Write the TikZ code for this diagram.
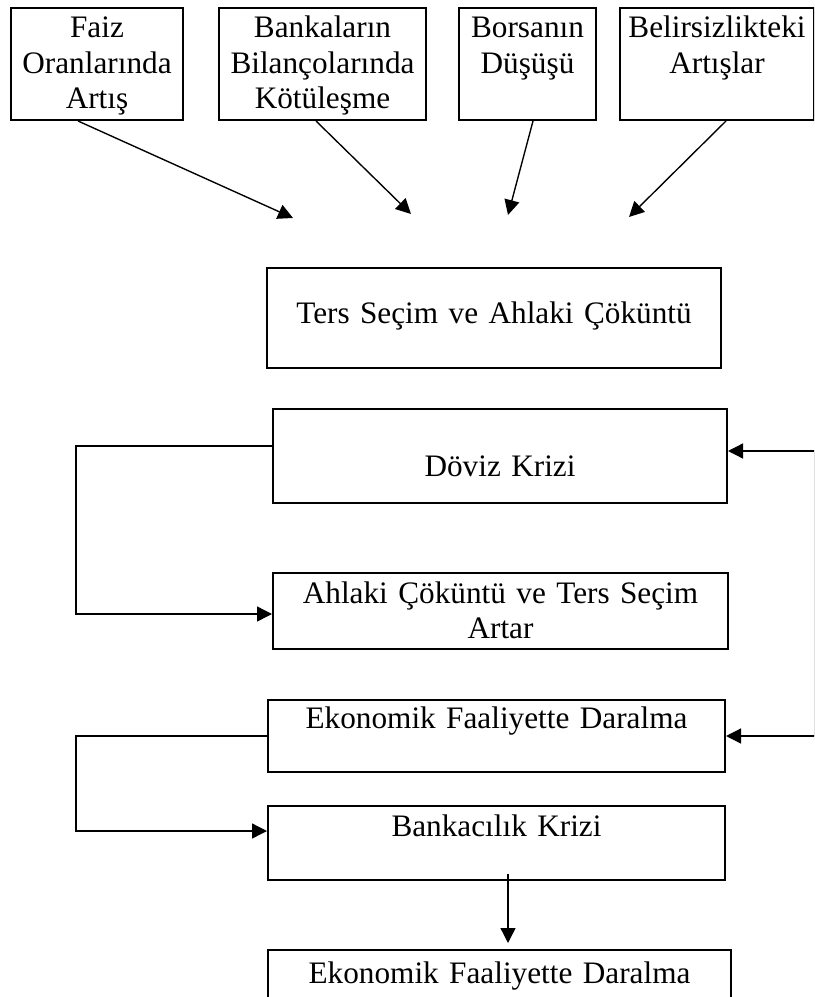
\documentclass[tikz,border=0pt]{standalone}
\usepackage{fontspec}
\setmainfont{Liberation Serif}
\usetikzlibrary{arrows.meta}
\newcommand{\yazi}{\fontsize{12.5pt}{14.2pt}\selectfont}

\begin{document}
\begin{tikzpicture}[x=0.4pt, y=-0.4pt,
    kutu/.style={rectangle, draw, line width=\kutukalin, inner sep=0pt, align=center, font=\yazi, anchor=north west},
    ok/.style={-{Triangle[length=6pt, width=6pt]}, line width=\okkalin}]
        \def\kutukalin{0.8pt}
        \def\okkalin{0.55pt}

        \clip (0, 0) rectangle (814, 997);

        % ust sira
        \node[kutu, text width=68.8pt, text height=12pt, text depth=32.8pt] (faiz) at (10, 7) {Faiz\\Oranlarında\\Artış};
        \node[kutu, text width=82.8pt, text height=12pt, text depth=32.8pt] (bilanco) at (218, 7) {Bankaların\\Bilançolarında\\Kötüleşme};
        \node[kutu, text width=54.8pt, text height=12pt, text depth=32.8pt] (borsa) at (458, 7) {Borsanın\\Düşüşü};
        \node[kutu, text width=77.6pt, text height=12pt, text depth=32.8pt] (belirsiz) at (619, 7) {Belirsizlikteki\\Artışlar};

        \coordinate (u1) at (293, 218);
        \coordinate (u2) at (411, 214);
        \coordinate (u3) at (508, 215);
        \coordinate (u4) at (629, 217);

        % orta sutun
        \node[kutu, text width=181.6pt, text height=22.4pt, text depth=17.6pt] (ters) at (266, 267) {Ters Seçim ve Ahlaki Çöküntü};
        \node[kutu, text width=181.6pt, text height=26.8pt, text depth=10.8pt] (doviz) at (272, 408) {Döviz Krizi};
        \node[kutu, text width=182pt, text height=12pt, text depth=18.4pt] (ahlaki) at (272, 572) {Ahlaki Çöküntü ve Ters Seçim\\Artar};
        \node[kutu, text width=182.8pt, text height=11.2pt, text depth=17.6pt] (ekon) at (267, 699) {Ekonomik Faaliyette Daralma};
        \node[kutu, text width=182.8pt, text height=12pt, text depth=17.6pt] (bankkriz) at (267, 805) {Bankacılık Krizi};
        \node[kutu, text width=185.2pt, text height=13.2pt, text depth=19.2pt] (son) at (267, 949) {Ekonomik Faaliyette Daralma};

        \draw[ok] ([xshift=-7.6pt]faiz.south) -- (u1);
        \draw[ok] ([xshift=-2.6pt]bilanco.south) -- (u2);
        \draw[ok] ([xshift=2.2pt]borsa.south) -- (u3);
        \draw[ok] ([xshift=3.6pt]belirsiz.south) -- (u4);

        \draw[ok] ([yshift=4pt]doviz.west) -- ++(-196, 0) |- ([yshift=-1.2pt]ahlaki.west);
        \draw[ok] (ekon.west) -- ++(-191, 0) |- ([yshift=4.8pt]bankkriz.west);

        \draw[ok] (ekon.east) ++(89, 0) coordinate (sagalt) |- ([yshift=2pt]doviz.east);
        \draw[ok] (sagalt) -- (ekon.east);

        \draw[ok, shorten >=2.4pt] ([xshift=4.6pt, yshift=2.8pt]bankkriz.south) coordinate (b0) -- (b0 |- son.north);
    \end{tikzpicture}
\end{document}
